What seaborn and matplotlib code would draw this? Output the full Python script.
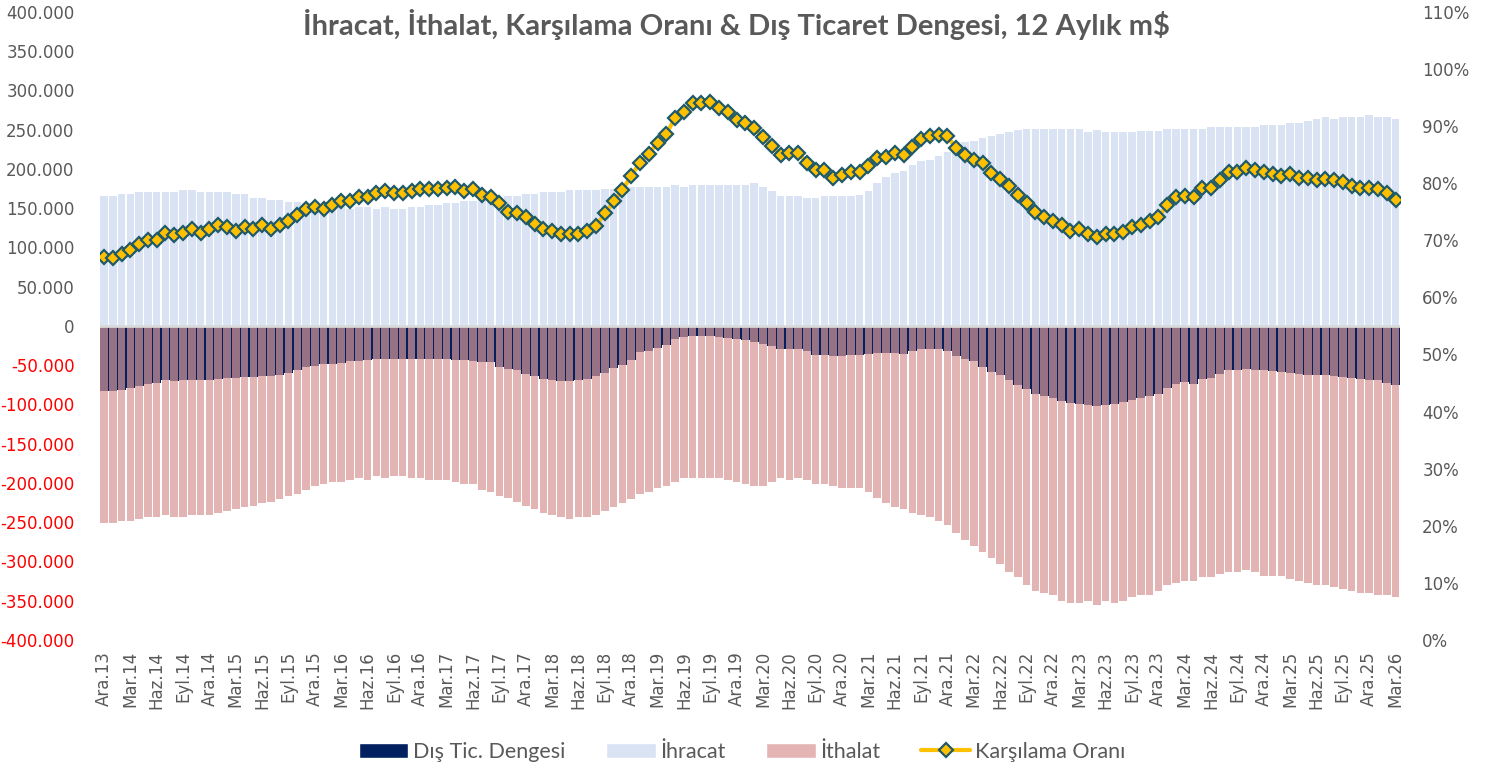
import numpy as np
import matplotlib.pyplot as plt
from matplotlib.patches import Patch
from matplotlib.lines import Line2D
import seaborn as sns

sns.set_style("white")
plt.rcParams["font.family"] = ["DejaVu Sans"]

# ay etiketleri (Ara.13 - Mar.26)
ay_adlari = ["Oca", "Şub", "Mar", "Nis", "May", "Haz", "Tem", "Ağu", "Eyl", "Eki", "Kas", "Ara"]
etiketler = [f"{ay_adlari[(11 + i) % 12]}.{13 + (11 + i) // 12:02d}" for i in range(148)]

# 12 aylik toplamlar, milyar $ (eksen 1000 ile carpilarak m$ gosteriliyor)
ihracat = [
    165.4, 165.4, 168.0, 168.0, 170.4, 170.4, 170.4, 170.4, 170.4, 172.6, 172.6, 170.4,
    170.4, 170.4, 170.4, 168.0, 168.0, 163.0, 163.0, 160.5, 160.5, 158.0, 158.0, 156.0,
    154.0, 153.0, 152.7, 152.7, 148.5, 151.0, 151.0, 148.5, 151.0, 148.5, 148.5, 151.0,
    151.0, 153.5, 153.5, 156.0, 156.0, 158.7, 158.7, 161.0, 162.0, 163.5, 165.4, 165.4,
    168.0, 168.0, 170.4, 170.4, 170.4, 173.0, 173.0, 173.0, 173.0, 175.0, 175.0, 177.3,
    177.3, 177.3, 177.3, 177.3, 177.3, 180.0, 177.3, 180.0, 180.0, 180.0, 180.0, 180.0,
    180.0, 180.0, 182.7, 177.3, 172.0, 165.4, 165.4, 165.4, 163.0, 163.0, 165.4, 165.4,
    165.4, 165.4, 167.0, 172.0, 182.7, 190.0, 195.0, 197.6, 205.0, 210.0, 212.0, 217.0,
    222.0, 229.7, 234.8, 235.0, 240.0, 241.6, 245.0, 246.5, 249.6, 251.0, 251.0, 251.0,
    251.0, 251.0, 251.0, 251.0, 247.0, 249.6, 246.5, 246.5, 246.5, 246.5, 248.0, 248.0,
    248.0, 251.0, 251.0, 251.0, 251.0, 251.0, 254.0, 254.0, 254.0, 254.0, 254.0, 254.0,
    256.3, 256.3, 256.3, 258.9, 258.9, 261.4, 264.0, 266.5, 264.0, 266.5, 266.5, 266.5,
    269.0, 266.5, 266.5, 264.0,
]

ithalat = [
    -251.3, -251.0, -248.7, -248.7, -246.0, -243.6, -243.6, -241.0, -243.6, -243.6, -241.0, -241.0,
    -241.0, -238.6, -236.0, -233.5, -231.0, -228.8, -226.0, -223.7, -221.0, -216.6, -214.0, -209.0,
    -204.0, -201.4, -198.8, -198.8, -196.3, -194.0, -196.5, -191.6, -194.0, -191.6, -191.6, -194.0,
    -194.0, -196.5, -196.5, -196.5, -198.8, -201.4, -201.4, -209.0, -211.0, -216.6, -219.0, -223.7,
    -228.8, -233.5, -238.6, -241.0, -243.6, -246.0, -243.6, -243.6, -241.0, -236.0, -231.0, -226.0,
    -221.0, -214.0, -211.5, -206.4, -204.0, -198.8, -194.0, -194.0, -194.0, -194.0, -194.0, -196.5,
    -198.8, -201.4, -204.0, -204.0, -198.8, -194.0, -196.5, -194.0, -196.5, -201.4, -201.4, -204.0,
    -206.4, -206.4, -206.4, -211.5, -219.0, -226.0, -231.0, -233.5, -238.6, -241.0, -243.6, -248.7,
    -253.4, -263.5, -273.3, -280.9, -288.5, -295.3, -302.9, -313.0, -320.2, -330.0, -337.6, -340.0,
    -342.6, -350.0, -352.4, -352.4, -350.0, -355.0, -350.0, -352.4, -350.0, -345.0, -342.6, -342.6,
    -337.6, -330.0, -327.6, -325.3, -325.3, -320.2, -320.2, -315.6, -313.0, -313.0, -310.4, -313.0,
    -318.0, -318.0, -318.0, -323.0, -325.3, -327.8, -330.0, -330.0, -332.8, -335.0, -337.6, -340.0,
    -340.0, -342.6, -342.6, -345.0,
]

denge = [
    -83.3, -82.5, -81.7, -79.5, -76.5, -74.0, -72.5, -69.4, -70.5, -69.0, -69.0, -68.5,
    -68.5, -67.3, -66.5, -66.5, -65.1, -65.1, -64.0, -64.0, -62.5, -59.6, -56.5, -52.9,
    -50.7, -49.1, -49.1, -47.0, -45.3, -45.3, -44.0, -42.3, -41.9, -41.9, -41.9, -41.9,
    -41.9, -41.9, -41.9, -41.9, -43.0, -43.0, -45.0, -46.0, -46.0, -52.4, -54.6, -56.7,
    -61.0, -64.0, -67.3, -69.4, -70.5, -70.5, -69.4, -67.3, -64.0, -59.7, -53.8, -49.5,
    -44.0, -33.4, -31.3, -27.9, -24.0, -16.5, -13.5, -12.3, -12.3, -13.0, -14.0, -14.8,
    -16.1, -18.2, -20.3, -22.4, -25.4, -29.2, -29.6, -29.8, -32.4, -36.6, -36.6, -38.4,
    -38.4, -36.6, -36.6, -35.5, -34.3, -34.3, -34.7, -36.0, -31.3, -30.0, -30.0, -30.0,
    -32.4, -38.5, -41.9, -44.8, -52.4, -58.7, -63.0, -69.4, -74.9, -80.8, -86.3, -89.7,
    -91.8, -96.0, -97.7, -99.0, -101.0, -102.4, -101.0, -99.4, -96.9, -94.0, -91.8, -89.7,
    -86.3, -79.1, -73.6, -71.5, -73.6, -67.3, -66.0, -61.0, -56.7, -55.8, -54.6, -55.8,
    -56.7, -57.5, -58.4, -60.5, -61.0, -62.0, -62.5, -62.5, -63.6, -65.0, -66.3, -68.0,
    -69.2, -69.2, -72.2, -75.5,
]

karsilama = [
    67.0, 66.9, 67.6, 68.3, 69.4, 70.1, 70.1, 71.3, 71.0, 71.3, 72.0, 71.3,
    72.0, 72.7, 72.4, 71.7, 72.4, 72.0, 72.7, 72.0, 72.7, 73.4, 74.5, 75.4,
    75.9, 75.4, 76.1, 76.9, 76.8, 77.6, 77.6, 78.2, 78.6, 78.2, 78.2, 78.6,
    78.9, 78.9, 78.9, 79.2, 79.4, 78.6, 79.0, 77.9, 77.5, 76.5, 75.0, 74.7,
    74.1, 72.8, 72.0, 71.7, 71.1, 71.1, 71.1, 71.7, 72.5, 74.7, 76.8, 78.8,
    81.3, 83.6, 85.2, 87.0, 88.7, 91.4, 92.4, 94.1, 94.1, 94.2, 93.1, 92.4,
    91.1, 90.5, 89.7, 88.1, 86.6, 84.9, 85.3, 85.3, 83.6, 82.3, 82.3, 81.0,
    81.4, 82.0, 82.0, 83.0, 84.4, 84.6, 85.3, 84.9, 86.3, 87.8, 88.2, 88.5,
    88.2, 86.1, 85.0, 84.1, 83.5, 81.8, 80.8, 79.5, 77.9, 76.5, 75.0, 74.1,
    73.3, 72.7, 71.6, 71.9, 71.1, 70.6, 71.1, 71.1, 71.4, 72.4, 72.7, 73.3,
    74.1, 76.1, 77.5, 77.8, 77.5, 79.2, 79.2, 80.6, 81.9, 81.9, 82.6, 82.3,
    81.9, 81.6, 81.3, 81.6, 80.9, 80.9, 80.6, 80.7, 80.6, 80.2, 79.5, 79.2,
    79.2, 79.0, 78.2, 77.1,
]

NAVY = "#002060"
MAVI = "#DAE3F3"
PEMBE = "#D89494"
ALTIN = "#FFC000"
GRI = "#595959"

x = np.arange(len(etiketler))

fig = plt.figure(figsize=(14.93, 7.71), dpi=100)
ax = fig.add_axes([0.0667, 0.170, 0.871, 0.8145])

sns.barplot(x=x, y=denge, color=NAVY, width=1.0, saturation=1, errorbar=None,
            linewidth=0, ax=ax)
sns.barplot(x=x, y=ithalat, color=PEMBE, alpha=0.7, width=0.86, saturation=1,
            errorbar=None, linewidth=0, ax=ax)
sns.barplot(x=x, y=ihracat, color=MAVI, width=0.86, saturation=1, errorbar=None,
            linewidth=0, ax=ax)
ax.axhline(0, color="#D9D9D9", lw=2, zorder=5)

ax.set_xlim(-0.5, len(x) - 0.5)
ax.set_ylim(-400, 400)
yt = np.arange(-400, 401, 50)
ax.set_yticks(yt)
ax.set_yticklabels([f"{int(v * 1000):,}".replace(",", ".") for v in yt])
for lab, v in zip(ax.get_yticklabels(), yt):
    lab.set_color("#FF0000" if v < 0 else GRI)
ax.set_xticks(x[::3])
ax.set_xticklabels(etiketler[::3], rotation=90)
ax.tick_params(axis="y", length=0, pad=18, labelsize=12)
ax.tick_params(axis="x", length=0, pad=8, labelsize=12, labelcolor=GRI)
ax.set_xlabel("")
ax.set_ylabel("")

ax2 = ax.twinx()
sns.lineplot(x=x, y=karsilama, color=ALTIN, lw=3, marker="D", markersize=7,
             markerfacecolor=ALTIN, markeredgecolor="#1F5A6A", markeredgewidth=1.6,
             ax=ax2)
ax2.set_ylim(0, 110)
ax2.set_yticks(np.arange(0, 111, 10))
ax2.set_yticklabels([f"{v}%" for v in range(0, 111, 10)])
ax2.tick_params(axis="y", length=0, pad=16, labelsize=12, labelcolor=GRI)
ax2.set_ylabel("")

for a in (ax, ax2):
    for s in a.spines.values():
        s.set_visible(False)

fig.text(0.493, 1 - 24 / 771,
         "İhracat, İthalat, Karşılama Oranı & Dış Ticaret Dengesi, 12 Aylık m$",
         ha="center", va="center", fontsize=21, fontweight="bold",
         family="Lato", color=GRI)

handles = [
    Patch(facecolor=NAVY),
    Patch(facecolor=MAVI),
    Patch(facecolor="#E4B4B4"),
    Line2D([0], [0], color=ALTIN, lw=3, marker="D", markersize=7,
           markerfacecolor=ALTIN, markeredgecolor="#1F5A6A", markeredgewidth=1.6),
]
leg = fig.legend(handles, ["Dış Tic. Dengesi", "İhracat", "İthalat", "Karşılama Oranı"],
                 loc="center", bbox_to_anchor=(0.497, 1 - 752 / 771), ncol=4,
                 frameon=False, prop={"family": "Lato", "size": 15.5},
                 handlelength=2.3, columnspacing=1.9, handletextpad=0.2)
for t in leg.get_texts():
    t.set_color(GRI)

fig.savefig("out.png", dpi=100)
